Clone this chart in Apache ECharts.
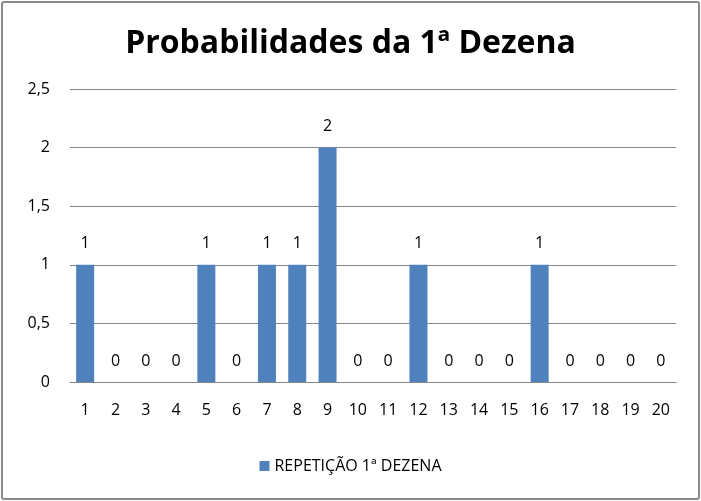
<!DOCTYPE html>
<html><head><meta charset="utf-8">
<script src="https://cdn.jsdelivr.net/npm/echarts@6/dist/echarts.min.js"></script>
<style>html,body{margin:0;padding:0;background:#fff}#c{width:701px;height:501px}
#frame{position:absolute;left:1px;top:1px;width:695px;height:495px;border:2px solid #8a8a8a;border-radius:3px;pointer-events:none}</style>
</head><body><div id="c"></div><div id="frame"></div>
<script>
const categories = ['1','2','3','4','5','6','7','8','9','10','11','12','13','14','15','16','17','18','19','20'];
const values = [1,0,0,0,1,0,1,1,2,0,0,1,0,0,0,1,0,0,0,0];
const seriesName = 'REPETIÇÃO 1ª DEZENA';
const titleText = 'Probabilidades da 1ª Dezena';
const font = 'Open Sans';
const chart = echarts.init(document.getElementById('c'));
chart.setOption({
  animation:false,
  title:{text:titleText,left:'center',top:23,textStyle:{fontFamily:font,fontWeight:'bold',fontSize:32,color:'#000'}},
  grid:{left:70,right:25,top:89,bottom:119,containLabel:false},
  legend:{bottom:22,left:'center',itemWidth:10,itemHeight:10,icon:'rect',itemGap:5,textStyle:{fontFamily:font,fontSize:16,color:'#000'}},
  xAxis:{type:'category',data:categories,axisTick:{show:false},axisLine:{lineStyle:{color:'#868686'}},
    axisLabel:{fontFamily:font,fontSize:16,color:'#000',margin:20}},
  yAxis:{type:'value',min:0,max:2.5,interval:0.5,axisLine:{show:false},axisTick:{show:false},
    splitLine:{lineStyle:{color:'#868686'}},
    axisLabel:{fontFamily:font,fontSize:16,color:'#000',margin:20,formatter:v=>String(v).replace('.',',')}},
  series:[{name:seriesName,type:'bar',data:values,barWidth:18,itemStyle:{color:'#4F81BD'},
    label:{show:true,position:'top',distance:13,fontFamily:font,fontSize:16,color:'#000'}}]
});
</script></body></html>
